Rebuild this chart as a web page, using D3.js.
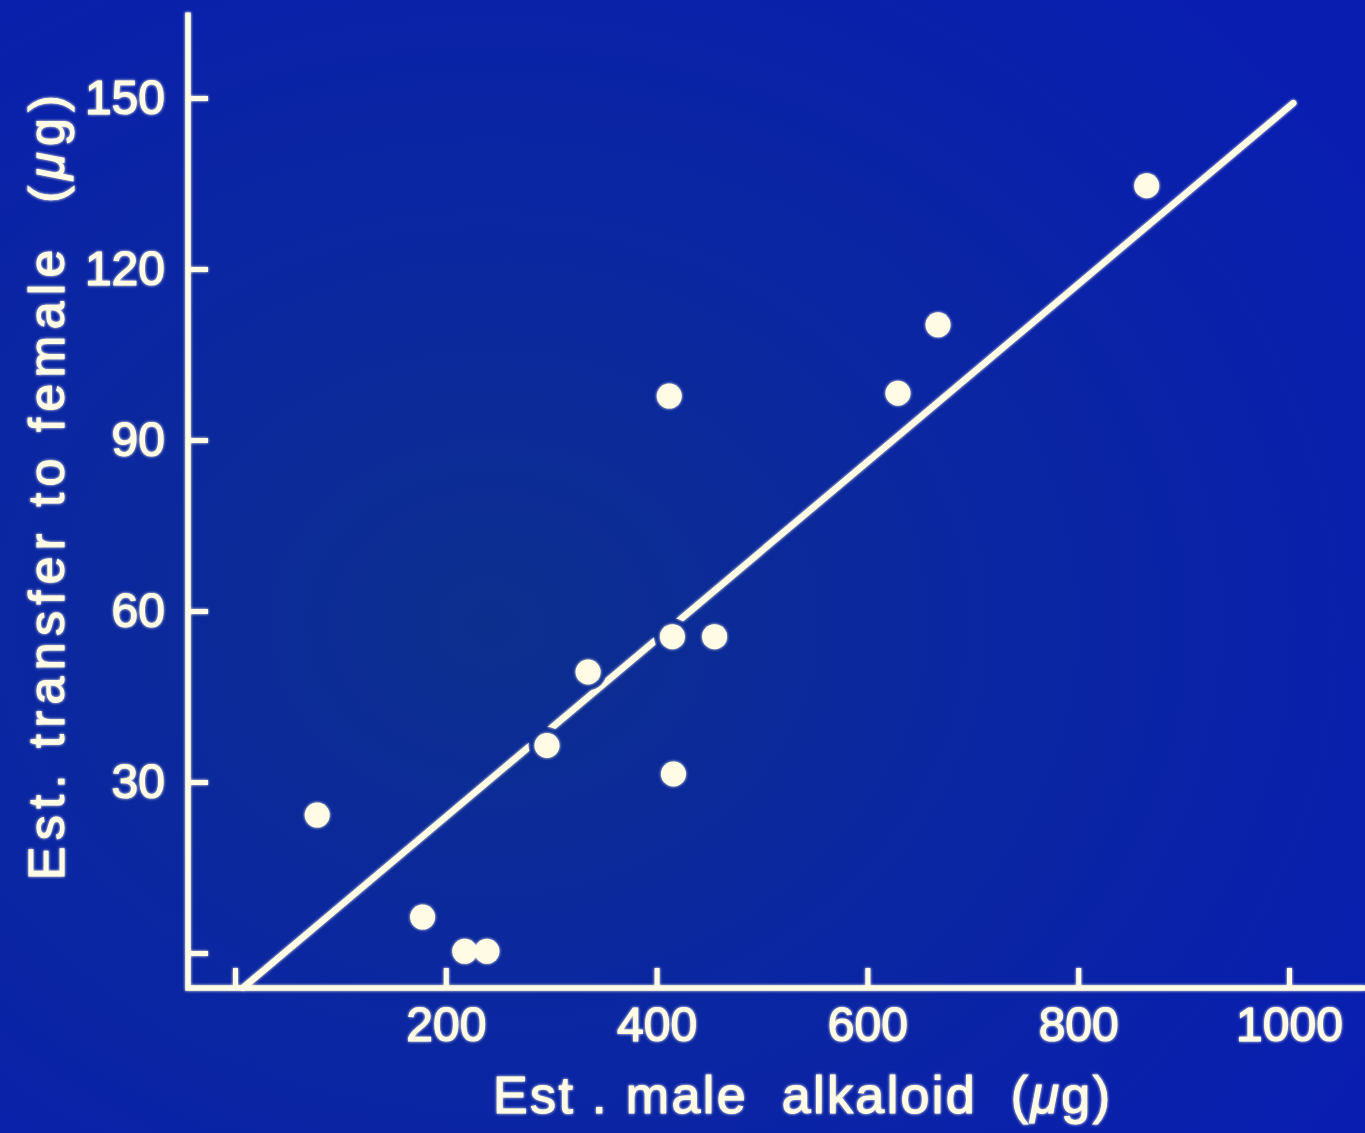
<!DOCTYPE html>
<html>
<head>
<meta charset="utf-8">
<script src="https://cdn.jsdelivr.net/npm/d3@7"></script>
<style>
  html, body { margin: 0; padding: 0; background: #0a1fa8; }
  svg { display: block; }
  text { font-family: "Liberation Sans", Arial, sans-serif; fill: #fffbe4; }
</style>
</head>
<body>
<svg id="chart"></svg>
<script>
// data
const maleAlkaloid = [78, 178, 218, 239, 296, 335, 412, 415, 416, 455, 629, 667, 865];
const transferFemale = [24.2, 6.3, 0.3, 0.3, 36.4, 49.3, 97.7, 55.5, 31.4, 55.5, 98.2, 110.2, 134.6];
const fitX = [7.6, 1004];
const fitY = [-6.1, 149.1];
const xTicks = [0, 200, 400, 600, 800, 1000];
const yTicks = [0, 30, 60, 90, 120, 150];
const xTitle = "Est . male  alkaloid  (";
const yTitle = "Est. transfer to female  (";

const width = 1365, height = 1133;
const ink = "#fffbe4";

const svg = d3.select("#chart").attr("width", width).attr("height", height);

// background: slide blue with a darker teal-ish centre
const defs = svg.append("defs");
const grad = defs.append("radialGradient")
  .attr("id", "bg")
  .attr("cx", "0.36").attr("cy", "0.55").attr("r", "0.75");
grad.append("stop").attr("offset", "0").attr("stop-color", "#0c2f8e");
grad.append("stop").attr("offset", "0.45").attr("stop-color", "#0b27a0");
grad.append("stop").attr("offset", "1").attr("stop-color", "#091eb0");
svg.append("rect").attr("width", width).attr("height", height).attr("fill", "url(#bg)");

// soft glow on the white strokes
const glow = defs.append("filter").attr("id", "glow")
  .attr("x", "-20%").attr("y", "-20%").attr("width", "140%").attr("height", "140%");
glow.append("feGaussianBlur").attr("in", "SourceGraphic").attr("stdDeviation", 1.6).attr("result", "b");
const merge = glow.append("feMerge");
merge.append("feMergeNode").attr("in", "b");
merge.append("feMergeNode").attr("in", "SourceGraphic");

const x = d3.scaleLinear().domain([0, 1000]).range([235, 1289]);
const y = d3.scaleLinear().domain([0, 150]).range([953, 98]);

const g = svg.append("g").attr("filter", "url(#glow)");

// axis lines (L shape)
const axisX = x.invert(188);
const axisY = y.invert(988);
g.append("path")
  .attr("d", d3.line()([[x(axisX), y(165)], [x(axisX), y(axisY)], [width, y(axisY)]]))
  .attr("fill", "none").attr("stroke", ink).attr("stroke-width", 5.5)
  .attr("stroke-linejoin", "miter");

// x axis ticks + labels
const xAxis = g.append("g")
  .attr("transform", `translate(0,${y(axisY)})`)
  .call(d3.axisBottom(x).tickValues(xTicks).tickSize(-20).tickPadding(19)
    .tickFormat(d => d === 0 ? "" : d));
xAxis.select(".domain").remove();
xAxis.selectAll("line").attr("stroke", ink).attr("stroke-width", 5);
xAxis.selectAll("text")
  .attr("font-size", 48).attr("fill", ink)
  .attr("stroke", ink).attr("stroke-width", 1.1)
  .style("font-family", "Liberation Sans, Arial, sans-serif");

// y axis ticks + labels
const yAxis = g.append("g")
  .attr("transform", `translate(${x(axisX)},0)`)
  .call(d3.axisLeft(y).tickValues(yTicks).tickSize(-20).tickPadding(23)
    .tickFormat(d => d === 0 ? "" : d));
yAxis.select(".domain").remove();
yAxis.selectAll("line").attr("stroke", ink).attr("stroke-width", 5);
yAxis.selectAll("text")
  .attr("font-size", 48).attr("fill", ink)
  .attr("stroke", ink).attr("stroke-width", 1.1)
  .style("font-family", "Liberation Sans, Arial, sans-serif");

// regression line, broken where it runs through a dot
const mask = defs.append("mask").attr("id", "gaps").attr("maskUnits", "userSpaceOnUse")
  .attr("x", 0).attr("y", 0).attr("width", width).attr("height", height);
mask.append("rect").attr("width", width).attr("height", height).attr("fill", "white");
mask.selectAll("circle").data(maleAlkaloid).join("circle")
  .attr("cx", d => x(d)).attr("cy", (d, i) => y(transferFemale[i]))
  .attr("r", 18.5).attr("fill", "black");

g.append("g").attr("mask", "url(#gaps)")
  .append("path")
  .attr("d", d3.line().x(d => x(d[0])).y(d => y(d[1]))(d3.zip(fitX, fitY)))
  .attr("fill", "none").attr("stroke", ink).attr("stroke-width", 6.5)
  .attr("stroke-linecap", "round");

// points
g.selectAll("circle.pt").data(maleAlkaloid).join("circle")
  .attr("class", "pt")
  .attr("cx", d => x(d)).attr("cy", (d, i) => y(transferFemale[i]))
  .attr("r", 12.5).attr("fill", ink);

// axis titles
const xt = g.append("text")
  .attr("x", 493).attr("y", 1113)
  .attr("font-size", 52).attr("stroke", ink).attr("stroke-width", 1)
  .attr("textLength", 617).attr("lengthAdjust", "spacing")
  .style("white-space", "pre");
xt.append("tspan").text(xTitle);
xt.append("tspan").attr("font-style", "italic").text("\u03bc");
xt.append("tspan").text("g)");

const yt = g.append("text")
  .attr("transform", "translate(64,880) rotate(-90)")
  .attr("font-size", 50).attr("stroke", ink).attr("stroke-width", 1)
  .attr("textLength", 785).attr("lengthAdjust", "spacing")
  .style("white-space", "pre");
yt.append("tspan").text(yTitle);
yt.append("tspan").attr("font-style", "italic").text("\u03bc");
yt.append("tspan").text("g)");
</script>
</body>
</html>
